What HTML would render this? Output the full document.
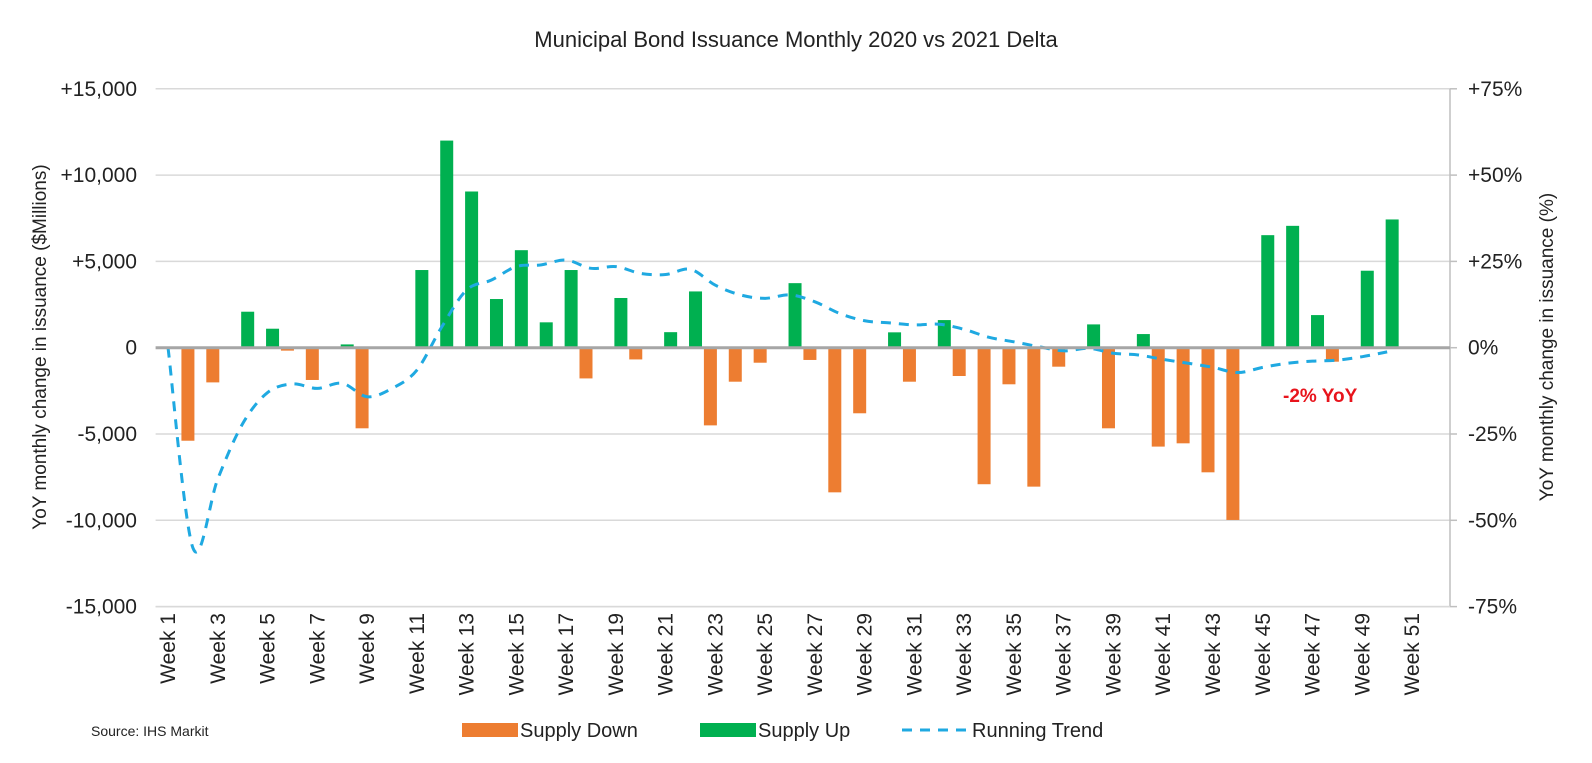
<!DOCTYPE html>
<html><head><meta charset="utf-8"><style>
html,body{margin:0;padding:0;background:#fff;}
svg{display:block;font-family:"Liberation Sans",Arial,sans-serif;}
</style></head><body>
<svg id="chart" width="1592" height="763" viewBox="0 0 1592 763" xmlns="http://www.w3.org/2000/svg">
<text x="796" y="47" text-anchor="middle" font-size="22" fill="#222">Municipal Bond Issuance Monthly 2020 vs 2021 Delta</text>
<g id="grid"></g>
<g id="bars"></g>
<g id="trend"></g>
<g id="axes"></g>
<text transform="translate(46,347) rotate(-90)" text-anchor="middle" font-size="19" fill="#222">YoY monthly change in issuance ($Millions)</text>
<text transform="translate(1553,347) rotate(-90)" text-anchor="middle" font-size="19" fill="#222">YoY monthly change in issuance (%)</text>
<text x="1283" y="402" font-size="19" font-weight="bold" fill="#e8141c">-2% YoY</text>
<text x="91" y="736" font-size="14" fill="#222">Source: IHS Markit</text>
<g>
<rect x="462" y="723" width="56" height="14" fill="#ed7d31"/>
<text x="520" y="737" font-size="20" fill="#222">Supply Down</text>
<rect x="700" y="723" width="56" height="14" fill="#00b050"/>
<text x="758" y="737" font-size="20" fill="#222">Supply Up</text>
<line x1="902" y1="730" x2="968" y2="730" stroke="#1fa9e1" stroke-width="3" stroke-dasharray="10,8"/>
<text x="972" y="737" font-size="20" fill="#222">Running Trend</text>
</g>
</svg>
<script>
const NS="http://www.w3.org/2000/svg";
const weekCount=52;
const leftTicks=[15000,10000,5000,0,-5000,-10000,-15000];
const leftTickLabels=["+15,000","+10,000","+5,000","0","-5,000","-10,000","-15,000"];
const rightTicks=[75,50,25,0,-25,-50,-75];
const rightTickLabels=["+75%","+50%","+25%","0%","-25%","-50%","-75%"];
const downWeeks=[2,3,6,7,9,18,20,23,24,25,27,28,29,31,33,34,35,36,37,39,41,42,43,44,48];
const downVals=[-5390,-2010,-170,-1870,-4670,-1780,-680,-4500,-1970,-870,-710,-8380,-3800,-1970,-1640,-7910,-2120,-8050,-1100,-4670,-5730,-5540,-7220,-9980,-810];
const upWeeks=[4,5,8,11,12,13,14,15,16,17,19,21,22,26,30,32,38,40,45,46,47,49,50];
const upVals=[2085,1100,190,4500,12000,9050,2820,5650,1470,4500,2880,900,3260,3740,890,1600,1350,790,6520,7060,1890,4460,7430];
const trendVals=[0,-58,-38,-22,-13,-10.5,-11.8,-10.3,-14.2,-11.8,-6.5,6,16.7,19.6,23.5,24,25.4,23,23.5,21.5,21.2,22.7,18.1,15.3,14.3,15.3,13.3,9.9,7.8,7.2,6.6,6.8,5.3,3,1.7,0.3,-0.9,-0.2,-1.6,-2.1,-3.4,-4.5,-5.7,-7.2,-5.7,-4.5,-3.9,-3.6,-2.6,-1.2];
const xLabels=[];for(let i=1;i<=51;i+=2)xLabels.push(i);

const plotL=155.6, band=24.88, zeroY=347.7, step=86.3, axisR=1450;
function xC(n){return plotL+band*(n-0.5);}
function yL(v){return zeroY-v/5000*step;}
function yR(p){return zeroY-p/25*step;}
function mk(tag,attrs,parent){const e=document.createElementNS(NS,tag);for(const k in attrs)e.setAttribute(k,attrs[k]);parent.appendChild(e);return e;}

const grid=document.getElementById('grid');
leftTicks.forEach((v,i)=>{
  if(v===0)return;
  const l=mk('line',{x1:plotL,x2:axisR,y1:yL(v),y2:yL(v),stroke:'#d9d9d9','stroke-width':1.5},grid);
  
  
});
const axes=document.getElementById('axes');
leftTickLabels.forEach((t,i)=>{
  const e=mk('text',{x:137,y:yL(leftTicks[i])+7,'text-anchor':'end','font-size':21,fill:'#222'},axes);
  e.textContent=t;
  
  
});
rightTickLabels.forEach((t,i)=>{
  const e=mk('text',{x:1468,y:yR(rightTicks[i])+7,'font-size':21,fill:'#222'},axes);
  e.textContent=t;
  
  
  const tk=mk('line',{x1:axisR,x2:axisR+7,y1:yR(rightTicks[i]),y2:yR(rightTicks[i]),stroke:'#bfbfbf','stroke-width':1.5},axes);
  
  
});
const ra=mk('line',{x1:axisR,x2:axisR,y1:yR(75),y2:yR(-75),stroke:'#bfbfbf','stroke-width':1.5},axes);


const bot=mk('line',{x1:plotL,x2:axisR,y1:yL(-15000),y2:yL(-15000),stroke:'#d9d9d9','stroke-width':1.5},axes);


xLabels.forEach(n=>{
  const x=xC(n)+7;
  const e=mk('text',{transform:`translate(${x},${613}) rotate(-90)`,'text-anchor':'end','font-size':21,fill:'#222'},axes);
  e.textContent='Week '+n;
  
  
});

const bars=document.getElementById('bars');
downWeeks.forEach((w,i)=>{
  const v=downVals[i];
  const r=mk('rect',{x:xC(w)-5-6.5,y:yL(0),width:13,height:yL(v)-yL(0),fill:'#ed7d31'},bars);
  
  
});
upWeeks.forEach((w,i)=>{
  const v=upVals[i];
  const r=mk('rect',{x:xC(w)+5-6.5,y:yL(v),width:13,height:yL(0)-yL(v),fill:'#00b050'},bars);
  
  
});
const zl=mk('line',{x1:plotL,x2:axisR,y1:zeroY,y2:zeroY,stroke:'#a6a6a6','stroke-width':3},axes);



const pts=trendVals.map((p,i)=>[xC(i+1),yR(p)]);
let d='M'+pts[0][0]+','+pts[0][1];
for(let i=0;i<pts.length-1;i++){
  const p0=pts[Math.max(0,i-1)],p1=pts[i],p2=pts[i+1],p3=pts[Math.min(pts.length-1,i+2)];
  const t=1/6;
  d+=` C${p1[0]+(p2[0]-p0[0])*t},${p1[1]+(p2[1]-p0[1])*t} ${p2[0]-(p3[0]-p1[0])*t},${p2[1]-(p3[1]-p1[1])*t} ${p2[0]},${p2[1]}`;
}
const tl=mk('path',{d:d,fill:'none',stroke:'#1fa9e1','stroke-width':3,'stroke-dasharray':'10,8'},document.getElementById('trend'));


</script>
</body></html>
